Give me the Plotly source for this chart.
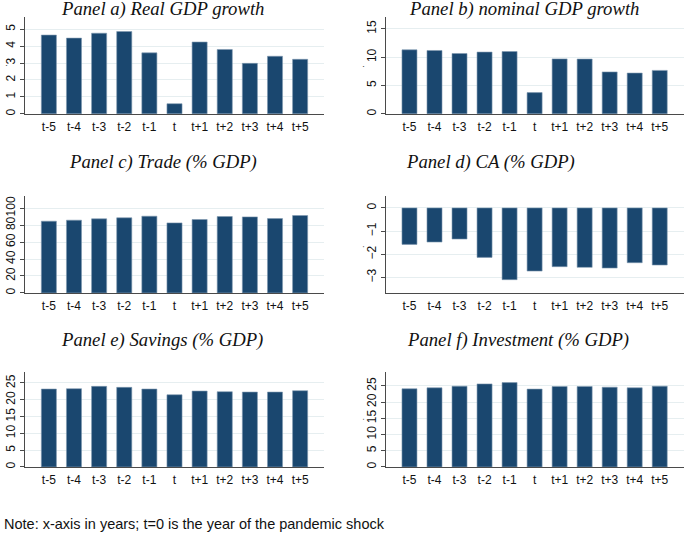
import plotly.graph_objects as go

periods = ["t-5", "t-4", "t-3", "t-2", "t-1", "t", "t+1", "t+2", "t+3", "t+4", "t+5"]

real_gdp_growth = [4.65, 4.47, 4.76, 4.86, 3.60, 0.60, 4.24, 3.80, 2.98, 3.40, 3.22]
nominal_gdp_growth = [11.3, 11.18, 10.65, 10.9, 11.0, 3.75, 9.7, 9.67, 7.4, 7.2, 7.67]
trade_gdp = [84.7, 85.9, 87.5, 88.7, 90.6, 82.7, 86.7, 90.2, 89.8, 87.8, 91.4]
ca_gdp = [-1.57, -1.47, -1.34, -2.13, -3.09, -2.72, -2.53, -2.56, -2.59, -2.36, -2.46]
savings_gdp = [23.2, 23.3, 24.0, 23.7, 23.2, 21.5, 22.6, 22.4, 22.3, 22.3, 22.7]
investment_gdp = [24.1, 24.4, 24.9, 25.6, 26.0, 24.0, 24.8, 24.8, 24.6, 24.4, 24.9]

panel_titles = [
    "Panel a) Real GDP growth",
    "Panel b) nominal GDP growth",
    "Panel c) Trade (% GDP)",
    "Panel d) CA (% GDP)",
    "Panel e) Savings (% GDP)",
    "Panel f) Investment (% GDP)",
]
note_text = "Note: x-axis in years; t=0 is the year of the pandemic shock"

W, H = 685, 536
BAR = "#1a476f"
AXIS = "#4a4a4a"
GRID = "#e6eef0"
SANS = "Liberation Sans, Arial, sans-serif"
SERIF = "Liberation Serif, Times New Roman, serif"

# (series, x0, x1, ytop, ybot, yrange, dtick, title_x, title_y, dot_x, dot_y)
panels = [
    (real_gdp_growth, 25, 324, 17, 114.3, [0, 5.72], 1, 162, 9.5, 4, 65),
    (nominal_gdp_growth, 385.7, 683.5, 17, 114.3, [0, 17.1], 5, 524, 9.5, 361, 66),
    (trade_gdp, 25, 324, 196.7, 294, [0, 114.5], 20, 162.5, 163, 4, 245),
    (ca_gdp, 385.7, 683.5, 196.7, 294, [-3.66, 0.515], 1, 491, 163, 361, 247),
    (savings_gdp, 25, 324, 373.3, 468.7, [0, 28.3], 5, 161.7, 341, 4, 420),
    (investment_gdp, 385.7, 683.5, 373.3, 468.7, [0, 29.3], 5, 518, 341, 361, 420),
]

fig = go.Figure()
annotations = []
for i, (vals, x0, x1, yt, yb, yr, dt, tx, ty, dx, dy) in enumerate(panels):
    n = i + 1
    xa = "x" if n == 1 else f"x{n}"
    ya = "y" if n == 1 else f"y{n}"
    fig.add_trace(go.Bar(
        x=periods, y=vals, xaxis=xa, yaxis=ya, width=0.6,
        marker=dict(color=BAR, line=dict(color="#7f98b0", width=0.6)),
        showlegend=False, hoverinfo="x+y",
    ))
    xkey = "xaxis" if n == 1 else f"xaxis{n}"
    ykey = "yaxis" if n == 1 else f"yaxis{n}"
    fig.layout[xkey] = dict(
        domain=[x0 / W, x1 / W], anchor=ya, type="category",
        categoryorder="array", categoryarray=periods,
        range=[-0.95, 10.95], showline=True, linecolor=AXIS, linewidth=1.2,
        ticks="", showgrid=False, zeroline=False, ticklabelstandoff=2,
        tickfont=dict(family=SANS, size=12, color="#111"),
    )
    fig.layout[ykey] = dict(
        domain=[1 - yb / H, 1 - yt / H], anchor=xa, range=yr,
        tick0=0, dtick=dt, showline=True, linecolor=AXIS, linewidth=1.2,
        ticks="outside", ticklen=4, tickcolor=AXIS, tickwidth=1,
        showgrid=True, gridcolor=GRID, gridwidth=1, zeroline=False,
        tickangle=-90, tickfont=dict(family=SANS, size=12, color="#111"),
    )
    annotations.append(dict(
        text=panel_titles[i], x=tx / W, y=1 - ty / H, xref="paper", yref="paper",
        xanchor="center", yanchor="middle", showarrow=False,
        font=dict(family=SERIF, size=18.7, color="#111", style="italic"),
    ))
    annotations.append(dict(
        text=".", x=dx / W, y=1 - dy / H, xref="paper", yref="paper",
        xanchor="center", yanchor="middle", showarrow=False, textangle=-90,
        font=dict(family=SANS, size=9, color="#333"),
    ))

annotations.append(dict(
    text=note_text, x=2 / W, y=1 - 526 / H, xref="paper", yref="paper",
    xanchor="left", yanchor="middle", showarrow=False,
    font=dict(family=SANS, size=14.5, color="#111"),
))

fig.update_layout(
    width=W, height=H, autosize=False,
    margin=dict(l=0, r=0, t=0, b=0),
    paper_bgcolor="white", plot_bgcolor="white",
    annotations=annotations, bargap=0.4,
)

fig.write_html(
    "out.html",
    config={"displayModeBar": False},
    post_script="document.body.style.margin='0';document.body.style.overflow='hidden';",
)
